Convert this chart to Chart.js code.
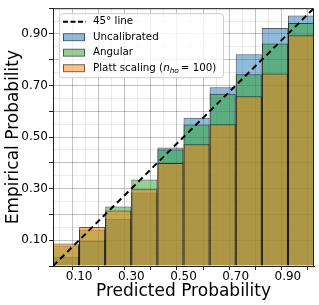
<!DOCTYPE html>
<html>
<head>
<meta charset="utf-8">
<script src="https://cdn.jsdelivr.net/npm/chart.js@4/dist/chart.umd.min.js"></script>
<style>
  html, body { margin: 0; padding: 0; background: #fff; }
</style>
</head>
<body>
<canvas id="calib" width="319" height="305"></canvas>
<script>
// bin centres (predicted probability), width 0.1
const bin_centers = [0.05, 0.15, 0.25, 0.35, 0.45, 0.55, 0.65, 0.75, 0.85, 0.95]
const uncalibrated = [0.036, 0.097, 0.183, 0.285, 0.460, 0.575, 0.693, 0.821, 0.923, 0.972]
const angular = [0.080, 0.142, 0.231, 0.336, 0.452, 0.549, 0.668, 0.744, 0.863, 0.943]
const platt = [0.087, 0.151, 0.215, 0.298, 0.400, 0.472, 0.550, 0.658, 0.747, 0.895]
const diag_x = [0, 1]
const diag_y = [0, 1]
const tick_labels = ['0.10', '0.30', '0.50', '0.70', '0.90']

const FONT = "'DejaVu Sans', sans-serif"

function toPoints(xs, ys) {
    let pts = []
    for (let i = 0; i < xs.length; i++) {
        pts.push({x: xs[i], y: ys[i]})
    }
    return pts
}

function isMajor(c) {
    if (!c || !c.tick) return true
    return Math.round(c.tick.value * 100) % 10 === 0
}

function gridColor(c) {
    return isMajor(c) ? 'rgba(0,0,0,0.24)' : 'rgba(0,0,0,0.08)'
}

function tickColor(c) {
    return isMajor(c) ? '#222' : 'rgba(0,0,0,0)'
}

function tickLabel(v) {
    let s = v.toFixed(2)
    return tick_labels.includes(s) ? s : ''
}

// draws the top/right spines
const frame = {
    id: 'frame',
    afterDatasetsDraw(chart) {
        const ctx = chart.ctx
        const a = chart.chartArea
        ctx.save()
        ctx.strokeStyle = '#222'
        ctx.lineWidth = 1
        ctx.beginPath()
        ctx.moveTo(a.left, a.top + 0.5)
        ctx.lineTo(a.right - 0.5, a.top + 0.5)
        ctx.lineTo(a.right - 0.5, a.bottom)
        ctx.stroke()
        ctx.restore()
    }
}

// matplotlib-like legend inside the axes
const legendBox = {
    id: 'legendBox',
    afterDraw(chart) {
        const ctx = chart.ctx
        const a = chart.chartArea
        const x0 = a.left + 6, y0 = a.top + 5
        ctx.save()
        ctx.fillStyle = 'rgba(255,255,255,0.8)'
        ctx.strokeStyle = 'rgba(200,200,200,0.9)'
        ctx.lineWidth = 1
        ctx.beginPath()
        ctx.roundRect(x0 + 0.5, y0 + 0.5, 164, 64, 3)
        ctx.fill()
        ctx.stroke()

        const rows = [8.5, 24, 39.5, 55]
        const sx = x0 + 4, tx = x0 + 34
        ctx.font = '10.3px ' + FONT
        ctx.textBaseline = 'middle'
        ctx.fillStyle = '#000'

        // dashed line entry
        ctx.strokeStyle = '#000'
        ctx.lineWidth = 2
        ctx.setLineDash([5, 2.5])
        ctx.beginPath()
        ctx.moveTo(sx, y0 + rows[0])
        ctx.lineTo(sx + 23, y0 + rows[0])
        ctx.stroke()
        ctx.setLineDash([])
        ctx.fillText('45° line', tx, y0 + rows[0])

        const ds = chart.data.datasets.filter(d => d.type !== 'line')
        ds.sort((p, q) => q.order - p.order)
        for (let i = 0; i < ds.length; i++) {
            const cy = y0 + rows[i + 1]
            ctx.fillStyle = ds[i].backgroundColor
            ctx.fillRect(sx, cy - 3.5, 22, 7)
            ctx.strokeStyle = 'rgba(0,0,0,0.55)'
            ctx.lineWidth = 1
            ctx.strokeRect(sx + 0.5, cy - 3.5, 21, 7)
            ctx.fillStyle = '#000'
            if (ds[i].label.startsWith('Platt')) {
                let x = tx
                const a1 = 'Platt scaling ('
                ctx.font = '10.3px ' + FONT
                ctx.fillText(a1, x, cy)
                x += ctx.measureText(a1).width
                ctx.font = 'italic 10.3px ' + FONT
                ctx.fillText('n', x, cy)
                x += ctx.measureText('n').width
                ctx.font = 'italic 7.3px ' + FONT
                ctx.fillText('ho', x, cy + 2.5)
                x += ctx.measureText('ho').width + 2
                ctx.font = '10.3px ' + FONT
                ctx.fillText('= 100)', x, cy)
            } else {
                ctx.font = '10.3px ' + FONT
                ctx.fillText(ds[i].label, tx, cy)
            }
        }
        ctx.restore()
    }
}

function barSet(label, values, color, order) {
    return {
        type: 'bar',
        label: label,
        data: toPoints(bin_centers, values),
        backgroundColor: color,
        borderColor: 'rgba(0,0,0,0.65)',
        borderWidth: 1,
        borderSkipped: 'bottom',
        grouped: false,
        // ticks are every 0.05, bins are 0.1 wide
        barPercentage: 2,
        categoryPercentage: 1,
        order: order
    }
}

const ctx = document.getElementById('calib').getContext('2d')

const chart = new Chart(ctx, {
    data: {
        datasets: [
            {
                type: 'line',
                label: '45° line',
                data: toPoints(diag_x, diag_y),
                borderColor: '#000',
                borderWidth: 2,
                borderDash: [6, 4],
                pointRadius: 0,
                fill: false,
                order: 0
            },
            barSet('Platt scaling (n_ho = 100)', platt, 'rgba(255,127,14,0.5)', 1),
            barSet('Angular', angular, 'rgba(44,160,44,0.5)', 2),
            barSet('Uncalibrated', uncalibrated, 'rgba(31,119,180,0.5)', 3)
        ]
    },
    options: {
        responsive: false,
        animation: false,
        devicePixelRatio: 1,
        layout: {padding: {left: 0, right: 5, top: 5, bottom: 0}},
        plugins: {
            legend: {display: false},
            tooltip: {enabled: false}
        },
        scales: {
            x: {
                type: 'linear',
                min: 0,
                max: 1,
                offset: false,
                afterFit: s => { s.height = 39 },
                border: {color: '#222', width: 1},
                grid: {
                    color: gridColor,
                    tickColor: tickColor,
                    tickLength: 4,
                    lineWidth: 1
                },
                ticks: {
                    stepSize: 0.05,
                    autoSkip: false,
                    maxRotation: 0,
                    padding: 0,
                    color: '#000',
                    font: {family: FONT, size: 12},
                    callback: v => tickLabel(v)
                },
                title: {
                    display: true,
                    text: 'Predicted Probability',
                    color: '#000',
                    font: {family: FONT, size: 17},
                    padding: {top: 0, bottom: 3}
                }
            },
            y: {
                type: 'linear',
                min: 0,
                max: 1,
                afterFit: s => { s.width = 53 },
                border: {color: '#222', width: 1},
                grid: {
                    color: gridColor,
                    tickColor: tickColor,
                    tickLength: 4,
                    lineWidth: 1
                },
                ticks: {
                    stepSize: 0.05,
                    autoSkip: false,
                    padding: 1,
                    color: '#000',
                    font: {family: FONT, size: 12},
                    callback: v => tickLabel(v)
                },
                title: {
                    display: true,
                    text: 'Empirical Probability',
                    color: '#000',
                    font: {family: FONT, size: 17},
                    padding: {top: 3, bottom: 0}
                }
            }
        }
    },
    plugins: [frame, legendBox]
})
</script>
</body>
</html>
